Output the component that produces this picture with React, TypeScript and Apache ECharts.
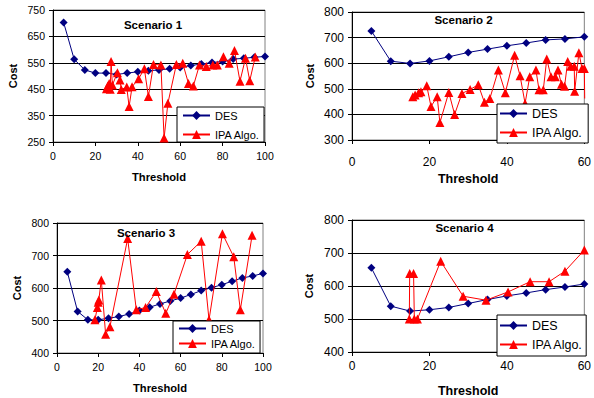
import React, { useEffect, useRef } from "react";
import * as echarts from "echarts";

// Scenario 1
const s1DesThreshold = [5, 10, 15, 20, 25, 30, 35, 40, 45, 50, 55, 60, 65, 70, 75, 80, 85, 90, 95, 100];
const s1DesCost = [703, 563, 523, 511, 511, 506, 511, 516, 520, 523, 527, 532, 540, 545, 551, 555, 564, 567, 571, 574];
const s1IpaThreshold = [25.2, 25.8, 26.5, 27, 27.4, 28, 30.4, 31.6, 32.2, 34.8, 35.9, 37.3, 40.4, 43.1, 45, 47.4, 50.9, 52.4, 54.2, 58.2, 61.2, 63.9, 66.2, 69.1, 72.3, 75.4, 77.5, 80.4, 83.1, 85.6, 88.2, 90.8, 92.8, 95.4];
const s1IpaCost = [452, 462, 472, 450, 555, 466, 512, 485, 449, 458, 384, 459, 490, 527, 422, 544, 542, 265, 397, 544, 548, 472, 462, 542, 536, 542, 542, 573, 548, 597, 480, 567, 482, 572];

// Scenario 2
const s2DesThreshold = [5, 10, 15, 20, 25, 30, 35, 40, 45, 50, 55, 60];
const s2DesCost = [726, 608, 599, 609, 625, 642, 655, 668, 679, 691, 695, 703];
const s2IpaThreshold = [15.7, 16.3, 17.2, 17.8, 19.3, 20.4, 22, 22.7, 25, 26.5, 28.4, 30.5, 32.6, 34.2, 35.6, 37.8, 39.6, 42, 43.4, 44.7, 45.9, 47.5, 48.3, 49.4, 50.3, 51.4, 52.5, 53.2, 54.1, 54.9, 55.7, 56.5, 57.4, 57.5, 58.6, 59.4, 60, 60.1];
const s2IpaCost = [469, 476, 485, 488, 512, 431, 469, 368, 486, 400, 482, 497, 516, 447, 462, 573, 485, 631, 551, 443, 547, 573, 496, 496, 616, 547, 547, 573, 518, 510, 607, 588, 588, 490, 641, 579, 579, 462];

// Scenario 3
const s3DesThreshold = [5, 10, 15, 20, 25, 30, 35, 40, 45, 50, 55, 60, 65, 70, 75, 80, 85, 90, 95, 100];
const s3DesCost = [650, 528, 502, 502, 507, 512, 520, 531, 541, 551, 560, 569, 580, 592, 601, 610, 621, 631, 637, 645];
const s3IpaThreshold = [18.4, 19.6, 20, 20.3, 21.5, 23.6, 25.7, 34.3, 38.5, 43, 48.2, 52.8, 56.8, 63.3, 70, 73.8, 80.3, 85.8, 89, 94.7];
const s3IpaCost = [502, 540, 556, 563, 625, 458, 481, 752, 533, 540, 589, 522, 581, 703, 744, 502, 767, 696, 533, 762];

// Scenario 4
const s4DesThreshold = [5, 10, 15, 20, 25, 30, 35, 40, 45, 50, 55, 60];
const s4DesCost = [655, 539, 524, 528, 535, 547, 559, 570, 579, 589, 597, 606];
const s4IpaThreshold = [14.8, 14.9, 15.9, 16.1, 16.9, 22.9, 28.7, 34.6, 40.3, 46, 50.9, 55, 60];
const s4IpaCost = [500, 638, 638, 500, 500, 675, 569, 557, 582, 613, 613, 645, 709];

const scenarioTitles = ["Scenario 1", "Scenario 2", "Scenario 3", "Scenario 4"];
const seriesNames = ["DES", "IPA Algo."];
const xAxisName = "Threshold";
const yAxisName = "Cost";

const FONT = 'Arial, "Liberation Sans", sans-serif';

const zip = (xs: number[], ys: number[]) => xs.map((x, i) => [x, ys[i]]);

export default function App() {
  const ref = useRef<HTMLDivElement>(null);

  useEffect(() => {
    if (!ref.current) return;
    const chart = echarts.init(ref.current, null, { renderer: "svg" });

    const panels = [
      { grid: { left: 53, top: 10, width: 212, height: 132 }, xMax: 100, yMin: 250, yMax: 750, des: zip(s1DesThreshold, s1DesCost), ipa: zip(s1IpaThreshold, s1IpaCost), tick: 10.5, xname: 11.2, xGap: 29, yGap: 34.5, xMargin: 8, title: [153, 24.5], legend: { left: 177, top: 107, padding: [3, 4, 2, 5], gap: 8, font: 11 } },
      { grid: { left: 352, top: 12, width: 235, height: 128 }, xMax: 60, yMin: 300, yMax: 800, des: zip(s2DesThreshold, s2DesCost), ipa: zip(s2IpaThreshold, s2IpaCost), tick: 12, xname: 12.5, xGap: 32, yGap: 36.5, xMargin: 16, title: [463.5, 20], legend: { left: 497, top: 104, padding: [3, 5, 4, 2], gap: 6, font: 12.5 } },
      { grid: { left: 57, top: 223, width: 206, height: 130 }, xMax: 100, yMin: 400, yMax: 800, des: zip(s3DesThreshold, s3DesCost), ipa: zip(s3IpaThreshold, s3IpaCost), tick: 10.5, xname: 11.2, xGap: 29, yGap: 35, xMargin: 8, title: [146, 233], legend: { left: 173, top: 321, padding: [2, 4, 4, 5], gap: 4, font: 11 } },
      { grid: { left: 352, top: 220, width: 235, height: 132 }, xMax: 60, yMin: 400, yMax: 800, des: zip(s4DesThreshold, s4DesCost), ipa: zip(s4IpaThreshold, s4IpaCost), tick: 12, xname: 12.5, xGap: 32, yGap: 38, xMargin: 8, title: [464.5, 228], legend: { left: 497, top: 315, padding: [4, 3, 5, 2], gap: 6, font: 12.5 } },
    ];

    const option: any = {
      animation: false,
      backgroundColor: "#ffffff",
      textStyle: { fontFamily: FONT },
      grid: panels.map((p) => ({
        ...p.grid,
        show: true,
        borderColor: "#808080",
        borderWidth: 1,
        backgroundColor: "transparent",
        containLabel: false,
      })),
      xAxis: panels.map((p, i) => ({
        type: "value",
        gridIndex: i,
        min: 0,
        max: p.xMax,
        interval: 20,
        name: xAxisName,
        nameLocation: "middle",
        nameGap: p.xGap,
        nameTextStyle: { fontFamily: FONT, fontWeight: "bold", fontSize: p.xname, color: "#000" },
        axisLine: { show: true, onZero: false, lineStyle: { color: "#000", width: 1 } },
        axisTick: { show: true, inside: false, length: 4, lineStyle: { color: "#000" } },
        axisLabel: { color: "#000", fontFamily: FONT, fontSize: p.tick, margin: p.xMargin },
        splitLine: { show: false },
      })),
      yAxis: panels.map((p, i) => ({
        type: "value",
        gridIndex: i,
        min: p.yMin,
        max: p.yMax,
        interval: 100,
        name: yAxisName,
        nameLocation: "middle",
        nameGap: p.yGap,
        nameTextStyle: { fontFamily: FONT, fontWeight: "bold", fontSize: 11, color: "#000" },
        axisLine: { show: true, onZero: false, lineStyle: { color: "#000", width: 1 } },
        axisTick: { show: true, inside: false, length: 4, lineStyle: { color: "#000" } },
        axisLabel: { color: "#000", fontFamily: FONT, fontSize: p.tick, margin: 8 },
        splitLine: { show: true, lineStyle: { color: "#000", width: 1 } },
      })),
      legend: panels.map((p) => ({
        orient: "vertical",
        left: p.legend.left,
        top: p.legend.top,
        padding: p.legend.padding,
        itemGap: p.legend.gap,
        itemWidth: 27,
        itemHeight: 11,
        backgroundColor: "#ffffff",
        borderColor: "#000",
        borderWidth: 1,
        borderRadius: 0,
        data: seriesNames,
        textStyle: { fontFamily: FONT, fontSize: p.legend.font, color: "#000" },
        selectedMode: false,
        z: 10,
      })),
      graphic: panels.map((p, i) => ({
        type: "text",
        x: p.title[0],
        y: p.title[1],
        z: 20,
        style: {
          text: scenarioTitles[i],
          align: "center",
          verticalAlign: "middle",
          font: `bold 11.5px ${FONT}`,
          fill: "#000",
        },
      })),
      series: panels.flatMap((p, i) => [
        {
          name: seriesNames[0],
          type: "line",
          xAxisIndex: i,
          yAxisIndex: i,
          data: p.des,
          symbol: "diamond",
          symbolSize: 8,
          color: "#000080",
          itemStyle: { color: "#000080" },
          lineStyle: { color: "#000080", width: 1 },
          z: 2,
        },
        {
          name: seriesNames[1],
          type: "line",
          xAxisIndex: i,
          yAxisIndex: i,
          data: p.ipa,
          symbol: "triangle",
          symbolSize: 9,
          color: "#FF0000",
          itemStyle: { color: "#FF0000" },
          lineStyle: { color: "#FF0000", width: 1 },
          z: 3,
        },
      ]),
    };

    chart.setOption(option);
    return () => chart.dispose();
  }, []);

  return (
    <div
      ref={ref}
      style={{ position: "absolute", left: 0, top: 0, width: 594, height: 398 }}
    />
  );
}
